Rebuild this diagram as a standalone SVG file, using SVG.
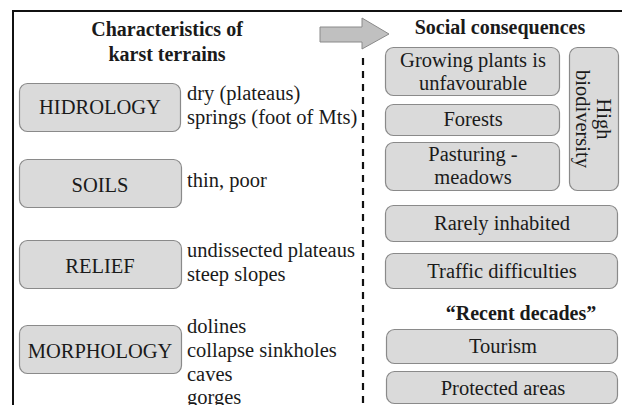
<svg xmlns="http://www.w3.org/2000/svg" width="622" height="405" viewBox="0 0 622 405">
<style>
.box{fill:#dadada;stroke:#8a8a8a;stroke-width:1.2}
.t{font-family:"Liberation Serif","Times New Roman",serif;font-size:20.5px;fill:#1a1a1a}
.c{text-anchor:middle}
.b{font-weight:bold;font-size:20px}
</style>
<rect width="622" height="405" fill="#ffffff"/>
<g id="frame" fill="none" stroke="#111" stroke-width="2">
<path d="M13,405 V11 H622"/>
</g>
<g id="connectors">
<path d="M320,27 H362 V18 L389,34 L362,49 V42 H320 Z" fill="#c0c0c0" stroke="#8a8a8a" stroke-width="1"/>
<line x1="363" y1="58" x2="363" y2="405" stroke="#111" stroke-width="2.2" stroke-dasharray="7,6"/>
</g>
<g id="title-left">
<text class="t b c" x="167" y="36">Characteristics of</text>
<text class="t b c" x="167" y="61">karst terrains</text>
</g>
<g id="title-right">
<text class="t b c" x="500" y="34">Social consequences</text>
</g>
<g id="hidrology">
<rect class="box" x="19.5" y="83.5" width="161" height="48" rx="8"/>
<text class="t c" x="100" y="114">HIDROLOGY</text>
<text class="t" x="187" y="100">dry (plateaus)</text>
<text class="t" x="187" y="124">springs (foot of Mts)</text>
</g>
<g id="soils">
<rect class="box" x="19.5" y="159.5" width="162" height="48" rx="8"/>
<text class="t c" x="100" y="192">SOILS</text>
<text class="t" x="187" y="187">thin, poor</text>
</g>
<g id="relief">
<rect class="box" x="19.5" y="240.5" width="162" height="48" rx="8"/>
<text class="t c" x="100" y="273">RELIEF</text>
<text class="t" x="187" y="257">undissected plateaus</text>
<text class="t" x="187" y="281">steep slopes</text>
</g>
<g id="morphology">
<rect class="box" x="19.5" y="325.5" width="162" height="48" rx="8"/>
<text class="t c" x="100" y="358">MORPHOLOGY</text>
<text class="t" x="187" y="333">dolines</text>
<text class="t" x="187" y="357">collapse sinkholes</text>
<text class="t" x="187" y="381">caves</text>
<text class="t" x="187" y="404">gorges</text>
</g>
<g id="growing">
<rect class="box" x="385.5" y="47.5" width="174" height="48" rx="8"/>
<text class="t c" x="473" y="67">Growing plants is</text>
<text class="t c" x="473" y="90">unfavourable</text>
</g>
<g id="forests">
<rect class="box" x="385.5" y="104.5" width="174" height="31" rx="8"/>
<text class="t c" x="473" y="126">Forests</text>
</g>
<g id="pasturing">
<rect class="box" x="385.5" y="142.5" width="174" height="48" rx="8"/>
<text class="t c" x="473" y="161">Pasturing -</text>
<text class="t c" x="473" y="184">meadows</text>
</g>
<g id="biodiversity">
<rect class="box" x="569.5" y="47.5" width="49" height="143" rx="8"/>
<g transform="translate(594,119) rotate(90)">
<text class="t c" x="0" y="-3">High</text>
<text class="t c" x="0" y="18">biodiversity</text>
</g>
</g>
<g id="rarely">
<rect class="box" x="385.5" y="205.5" width="232" height="36" rx="8"/>
<text class="t c" x="502" y="230">Rarely inhabited</text>
</g>
<g id="traffic">
<rect class="box" x="385.5" y="253.5" width="232" height="35" rx="8"/>
<text class="t c" x="502" y="278">Traffic difficulties</text>
</g>
<g id="recent">
<text class="t b c" x="521" y="320">“Recent decades”</text>
</g>
<g id="tourism">
<rect class="box" x="386.5" y="329.5" width="231" height="34" rx="8"/>
<text class="t c" x="503" y="353">Tourism</text>
</g>
<g id="protected">
<rect class="box" x="386.5" y="371.5" width="231" height="32" rx="8"/>
<text class="t c" x="503" y="395">Protected areas</text>
</g>
</svg>
